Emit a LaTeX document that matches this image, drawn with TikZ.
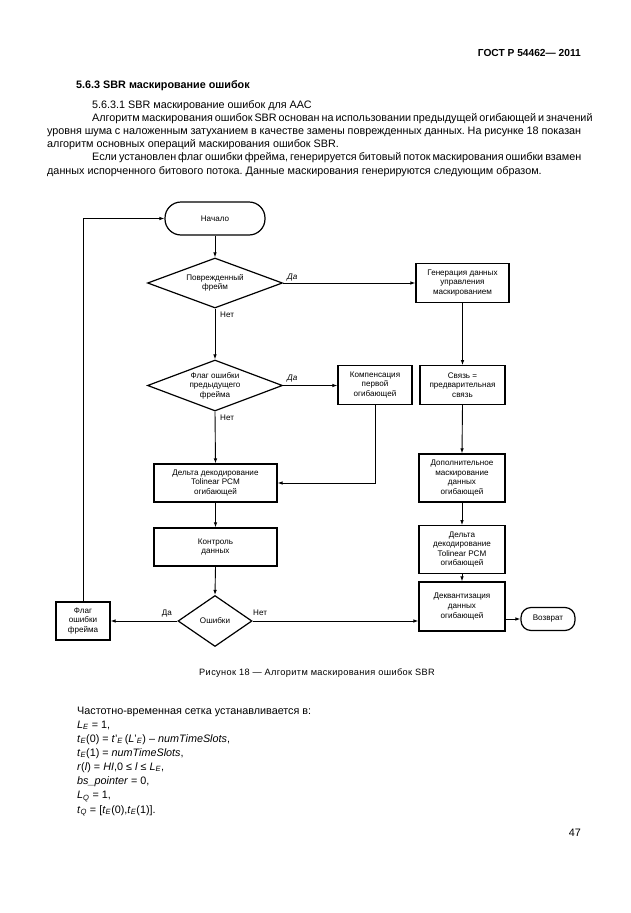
\documentclass[tikz,border=0pt]{standalone}
\usepackage{fontspec}
\setmainfont{Liberation Sans}
\newfontfamily\capfam[LetterSpace=4]{Liberation Sans}
\usetikzlibrary{shapes.geometric,arrows.meta}
\newcommand\bodyfs{\fontsize{10.8}{13.3}\selectfont}
\newcommand\hdrfs{\fontsize{10.2}{12}\selectfont}
\newcommand\fcfs{\fontsize{8.1}{9.6}\selectfont}
\newcommand\capfs{\capfam\fontsize{9.2}{11}\selectfont}
\newcommand\iv[1]{\textit{#1}}
\newcommand\sbs[1]{\textsubscript{\textit{#1}}}
\frenchspacing
\begin{document}
\frenchspacing
\begin{tikzpicture}[x=1pt,y=-1pt,
  txt/.style={anchor=mid west,inner sep=0pt,font=\bodyfs},
  box/.style={draw,line width=1.3pt,align=center,font=\fcfs,inner sep=1pt},
  term/.style={draw,line width=1.2pt,align=center,font=\fcfs,inner sep=1pt},
  dia/.style={diamond,draw,line width=1.2pt,align=center,font=\fcfs,inner sep=0pt,aspect=2.7},
  arr/.style={-{Latex[length=5pt,width=3.6pt]},line width=0.9pt},
  lbl/.style={inner sep=0pt,font=\fcfs}]
\useasboundingbox (0,0) rectangle (630,913);
\fill[white] (0,0) rectangle (630,913);

% ---------- page text ----------
\node[anchor=mid east,inner sep=0pt,font=\hdrfs\bfseries] (hdr) at (581,54) {ГОСТ Р 54462— 2011};
\node[txt,font=\bodyfs\bfseries] (h1) at (76,86) {5.6.3 SBR маскирование ошибок};
\node[txt] (p0) at (92,106) {5.6.3.1 SBR маскирование ошибок для ААС};
\node[txt] (p1) at (92,119) {\makebox[489pt][s]{Алгоритм маскирования ошибок SBR основан на использовании предыдущей огибающей и значений}};
\node[txt] (p2) at (47,132) {\makebox[534pt][s]{уровня шума с наложенным затуханием в качестве замены поврежденных данных. На рисунке 18 показан}};
\node[txt] (p3) at (47,145) {алгоритм основных операций маскирования ошибок SBR.};
\node[txt] (p4) at (92,158) {\makebox[489pt][s]{Если установлен флаг ошибки фрейма, генерируется битовый поток маскирования ошибки взамен}};
\node[txt] (p5) at (47,172) {данных испорченного битового потока. Данные маскирования генерируются следующим образом.};

% ---------- flowchart ----------
\node[term,rounded corners=16pt,minimum width=100pt,minimum height=33pt] (start) at (215,218.5) {Начало};
\node[dia,minimum width=135pt,minimum height=50pt] (d1) at (215,283) {Поврежденный\\фрейм};
\node[box,minimum width=93pt,minimum height=39pt] (gen) at (462.5,283) {Генерация данных\\управления\\маскированием};
\node[dia,minimum width=135pt,minimum height=51pt] (d2) at (215,385.5) {Флаг ошибки\\предыдущего\\фрейма};
\node[box,minimum width=74pt,minimum height=38.5pt] (comp) at (375,385) {Компенсация\\первой\\огибающей};
\node[box,minimum width=85pt,minimum height=38.5pt] (svz) at (462.5,385) {Связь =\\предварительная\\связь};
\node[box,minimum width=123pt,minimum height=38pt] (del1) at (215.5,483) {Дельта декодирование\\Tolinear PCM\\огибающей};
\node[box,minimum width=86pt,minimum height=48pt] (dop) at (462,478) {Дополнительное\\маскирование\\данных\\огибающей};
\node[box,minimum width=123pt,minimum height=38pt] (ctl) at (215.5,547) {Контроль\\данных};
\node[box,minimum width=86pt,minimum height=47.5pt] (del2) at (462,549.5) {Дельта\\декодирование\\Tolinear PCM\\огибающей};
\node[dia,minimum width=74pt,minimum height=51pt] (err) at (215,621) {Ошибки};
\node[box,minimum width=54pt,minimum height=38pt] (flag) at (83,621) {Флаг\\ошибки\\фрейма};
\node[box,minimum width=86pt,minimum height=49pt] (deq) at (462,606.5) {Деквантизация\\данных\\огибающей};
\node[term,rounded corners=10pt,minimum width=54pt,minimum height=23pt] (ret) at (548,619) {Возврат};

% connectors
\draw[arr] (flag.north) |- (start.west);
\draw[arr] (start.south) -- (d1.north);
\draw[arr] (d1.east) -- (d1.east -| gen.west);
\draw[arr] (d1.south) -- (d2.north);
\draw[arr] (d2.east) -- (d2.east -| comp.west);
\draw[arr] (d2.south) -- (del1.north);
\draw[arr] (comp.south) |- (del1.east);
\draw[arr] (gen.south) -- (svz.north);
\draw[arr] (svz.south) -- (dop.north);
\draw[arr] (dop.south) -- (del2.north);
\draw[arr] (del2.south) -- (deq.north);
\draw[arr] (del1.south) -- (ctl.north);
\draw[arr] (ctl.south) -- (err.north);
\draw[arr] (err.west) -- (flag.east);
\draw[arr] (err.east) -- (err.east -| deq.west);
\draw[arr] (deq.east |- ret.west) -- (ret.west);

% connector labels
\node[lbl,anchor=mid west,font=\fcfs\itshape] (l1) at (287,277) {Да};
\node[lbl,anchor=mid west] (l2) at (220,315) {Нет};
\node[lbl,anchor=mid west,font=\fcfs\itshape] (l3) at (287,378) {Да};
\node[lbl,anchor=mid west] (l4) at (220,418) {Нет};
\node[lbl,anchor=mid east] (l5) at (172,613) {Да};
\node[lbl,anchor=mid west] (l6) at (253,613) {Нет};

% caption
\node[inner sep=0pt,font=\capfs] (cap) at (317,673) {Рисунок 18 — Алгоритм маскирования ошибок SBR};

% formulas
\node[txt] (f0) at (77,711.5) {Частотно-временная сетка устанавливается в:};
\node[txt] (f1) at (77,725.5) {\iv{L}\sbs{E} = 1,};
\node[txt] (f2) at (77,739.5) {\iv{t}\sbs{E}(0) = \iv{t}'\sbs{E}\,(\iv{L}'\sbs{E}) – \iv{numTimeSlots},};
\node[txt] (f3) at (77,753.5) {\iv{t}\sbs{E}(1) = \iv{numTimeSlots},};
\node[txt] (f4) at (77,767.5) {\iv{r}(\iv{l}) = \iv{HI},0 ≤ \iv{l} ≤ \iv{L}\sbs{E},};
\node[txt] (f5) at (77,781.5) {\iv{bs\_pointer} = 0,};
\node[txt] (f6) at (77,796) {\iv{L}\sbs{Q} = 1,};
\node[txt] (f7) at (77,810.5) {\iv{t}\sbs{Q} = [\iv{t}\sbs{E}(0),\iv{t}\sbs{E}(1)].};

\node[anchor=mid east,inner sep=0pt,font=\bodyfs] (pg) at (581,834) {47};
\end{tikzpicture}
\end{document}
